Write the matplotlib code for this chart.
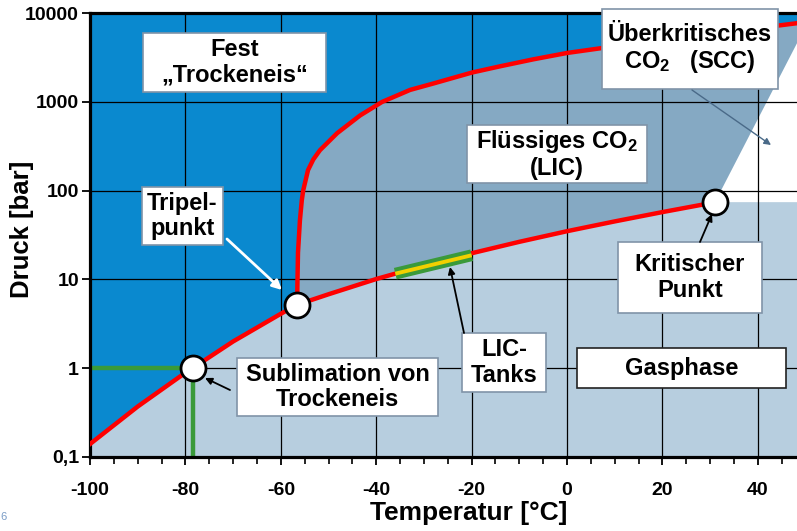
import matplotlib
matplotlib.use("Agg")
import matplotlib.pyplot as plt
from matplotlib.patches import Rectangle

plt.rcParams['font.family'] = ['Liberation Sans', 'DejaVu Sans']
plt.rcParams['font.weight'] = 'bold'
plt.rcParams['mathtext.fontset'] = 'custom'
plt.rcParams['mathtext.rm'] = 'Liberation Sans:bold'
plt.rcParams['mathtext.default'] = 'rm'

# phase boundaries of CO2
subl_T = [-100, -90, -80, -78.5, -70, -60, -56.6]
subl_p = [0.14, 0.37, 0.89, 1.0, 2.0, 4.1, 5.18]

vap_T = [-56.6, -50, -40, -30, -20, -10, 0, 10, 20, 31.0]
vap_p = [5.18, 6.8, 10.1, 14.3, 19.7, 26.5, 34.9, 45.0, 57.3, 73.8]

melt_T = [-56.6, -56.4, -56.0, -55.6, -55.3, -54.3, -53.2, -51.8, -48.2, -43.4,
          -38.8, -32.9, -28.1, -19.9, -14.0, -7.1, 0, 7.3, 20, 40, 48.2]
melt_p = [5.18, 20, 46, 78, 101, 170, 224, 285, 443, 701,
          995, 1361, 1603, 2138, 2512, 3006, 3548, 4027, 4955, 6761, 7674]

# boundary of the supercritical area
scc_T = [31.0, 48.2]
scc_p = [73.8, 4570]

# marked points: sublimation, triple point, critical point
pt_T = [-78.5, -56.6, 31.0]
pt_p = [1.0, 5.18, 73.8]

# LIC tanks section on the vapour curve
tank_T = [-36.0, -20.0]
tank_p = [11.6, 18.7]

x_ticks = [-100, -80, -60, -40, -20, 0, 20, 40]
x_labels = ['-100', '-80', '-60', '-40', '-20', '0', '20', '40']
y_ticks = [0.1, 1, 10, 100, 1000, 10000]
y_labels = ['0,1', '1', '10', '100', '1000', '10000']

XMIN, XMAX = -100, 48.2
YMIN, YMAX = 0.1, 10000

C_SOLID = '#0A89CF'
C_LIQ = '#85A9C3'
C_GAS = '#B7CEDF'
C_RED = '#FF0000'
C_GREEN = '#3A9A3A'

W, H = 797, 531
fig = plt.figure(figsize=(W / 100, H / 100), dpi=100)
ax = fig.add_axes([90 / W, 1 - 457 / H, (W - 90) / W, (457 - 13) / H])
ax.set_facecolor(C_SOLID)
ax.set_yscale('log')
ax.set_xlim(XMIN, XMAX)
ax.set_ylim(YMIN, YMAX)

# liquid region (right of melting curve)
ax.fill(melt_T + [XMAX, melt_T[0]], melt_p + [YMIN, YMIN], color=C_LIQ, lw=0, zorder=1)
# gas region (below sublimation + vapour curve)
gas_T = [XMIN] + subl_T + vap_T[1:] + [XMAX, XMAX]
gas_p = [YMIN] + subl_p + vap_p[1:] + [vap_p[-1], YMIN]
ax.fill(gas_T, gas_p, color=C_GAS, lw=0, zorder=1)
# supercritical (white wedge)
ax.fill(scc_T + [XMAX], scc_p + [vap_p[-1]], color='white', lw=0, zorder=1)

# grid
for t in x_ticks[1:]:
    ax.axvline(t, color='black', lw=0.9, zorder=2)
for p in y_ticks[1:-1]:
    ax.axhline(p, color='black', lw=0.9, zorder=2)

# green guide lines at 1 bar
ax.plot([XMIN, pt_T[0]], [pt_p[0], pt_p[0]], color=C_GREEN, lw=3.2, zorder=2.5)
ax.plot([pt_T[0], pt_T[0]], [YMIN, pt_p[0]], color=C_GREEN, lw=3.2, zorder=2.5)

# phase boundaries
ax.plot(subl_T + vap_T[1:], subl_p + vap_p[1:], color=C_RED, lw=3.2, zorder=3,
        solid_joinstyle='round')
ax.plot(melt_T, melt_p, color=C_RED, lw=3.2, zorder=3, solid_joinstyle='round')

# LIC tank bar
ax.plot(tank_T, tank_p, color=C_GREEN, lw=8.5, zorder=3.5, solid_capstyle='butt')
ax.plot(tank_T, tank_p, color='#F2D000', lw=2.8, zorder=3.6, solid_capstyle='butt')

# points
ax.plot(pt_T, pt_p, 'o', ms=18, mfc='white', mec='black', mew=2, zorder=4)

# axes styling
for s in ['left', 'bottom', 'top']:
    ax.spines[s].set_linewidth(2.3)
ax.spines['right'].set_visible(False)
ax.set_xticks(x_ticks)
ax.set_xticklabels(x_labels)
ax.set_xticks(range(-100, 50, 5), minor=True)
ax.set_yticks(y_ticks)
ax.set_yticklabels(y_labels)
ax.yaxis.set_minor_locator(matplotlib.ticker.NullLocator())
ax.tick_params(axis='x', which='major', direction='out', length=6, width=1.3,
               labelsize=14, pad=12)
ax.tick_params(axis='x', which='minor', direction='out', length=5, width=1.2)
ax.tick_params(axis='y', which='major', direction='out', length=6, width=1.3,
               labelsize=14, pad=2)
for lab in ax.get_xticklabels() + ax.get_yticklabels():
    lab.set_fontweight('bold')

fig.text(22 / W, 1 - 229 / H, 'Druck [bar]', rotation=90, fontsize=18.5,
         ha='center', va='center', fontweight='bold')
fig.text(469 / W, 1 - 513 / H, 'Temperatur [°C]', fontsize=19,
         ha='center', va='center', fontweight='bold')
fig.text(0.0, 1 - 517 / H, '6', fontsize=8, color='#7A9CC6', va='center',
         fontweight='normal')


def box(x0, y0, x1, y1, txt, edge='#8094A8'):
    ax.add_patch(Rectangle((x0 / W, 1 - y1 / H), (x1 - x0) / W, (y1 - y0) / H,
                           transform=fig.transFigure, clip_on=False,
                           facecolor='white', edgecolor=edge, lw=1.2, zorder=6))
    ax.text((x0 + x1) / 2 / W, 1 - (y0 + y1) / 2 / H, txt, transform=fig.transFigure,
            ha='center', va='center', multialignment='center', fontsize=17,
            fontweight='bold', linespacing=1.12, zorder=7, clip_on=False)


def arrow(x0, y0, x1, y1, color='black', lw=1.3, head=10):
    ax.annotate('', xy=(x1 / W, 1 - y1 / H), xytext=(x0 / W, 1 - y0 / H),
                xycoords='figure fraction', textcoords='figure fraction',
                arrowprops=dict(arrowstyle='-|>', color=color, lw=lw,
                                mutation_scale=head, shrinkA=0, shrinkB=0),
                zorder=8, annotation_clip=False)


box(143, 33, 326, 92, 'Fest\n„Trockeneis“')
box(142, 187, 223, 245, 'Tripel-\npunkt')
box(237, 358, 438, 416, 'Sublimation von\nTrockeneis')
box(467, 125, 647, 183, 'Flüssiges CO$_2$\n(LIC)')
box(602, 9, 778, 89, 'Überkritisches\nCO$_2$   (SCC)')
box(618, 242, 762, 313, 'Kritischer\nPunkt')
box(462, 333, 546, 392, 'LIC-\nTanks')
box(577, 348, 786, 388, 'Gasphase', edge='#222222')

arrow(227, 239, 282, 290, color='white', lw=2, head=14)
arrow(230, 390, 205, 378)
arrow(700, 242, 712, 214)
arrow(464, 333, 450, 267)
arrow(692, 90, 771, 145, color='#4A6A88', lw=1, head=10)

fig.savefig('out.png', dpi=100)
